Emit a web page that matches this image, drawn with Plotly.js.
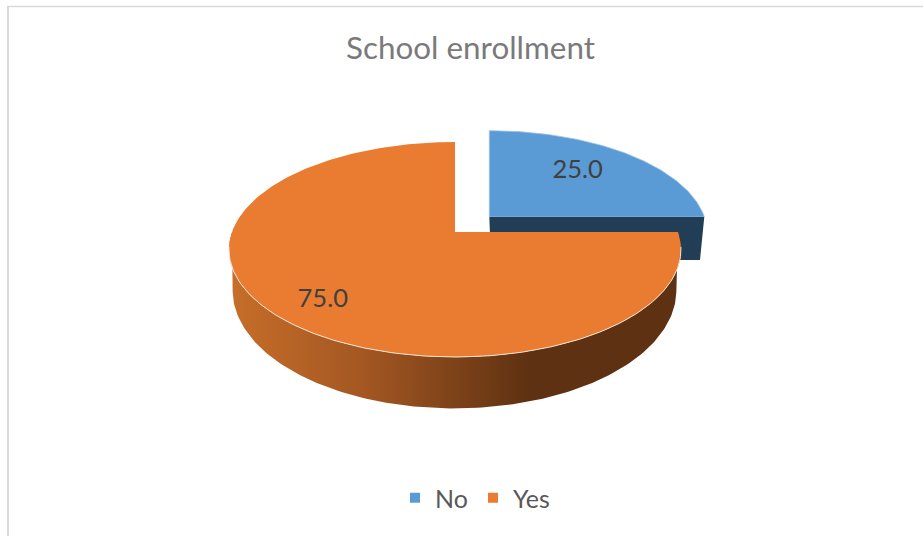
<!DOCTYPE html>
<html>
<head>
<meta charset="utf-8">
<script src="https://cdn.plot.ly/plotly-3.0.1.min.js"></script>
<style>html,body{margin:0;padding:0;background:#fff}</style>
</head>
<body>
<div id="chart" style="width:923px;height:536px"></div>
<script>
// School enrollment shares
const categories = ['No', 'Yes'];
const values = [25, 75];
const valueLabels = ['25.0', '75.0'];
const faceColors = ['#5B9BD5', '#E97C30'];
const wallColors = ['#223E57'];
const wallGradient = [[0, '#C76E2A'], [0.3, '#A35722'], [0.667, '#5E3112'], [1, '#5E3112']];

// Tilted-disc projections: origin, x radius, y radius, depth foreshortening
const noTop = {cx: 489.3, cy: 216.7, rx: 215, ry: 100, k: 0.1628};
const noBottom = {cx: 491, cy: 260, rx: 209, ry: 100, k: 0.1628};
const yesTop = {cx: 455, cy: 232, rx: 223, ry: 104.65, k: 0.1628};
const yesBottom = {cx: 454.5, cy: 271.5, rx: 219, ry: 115, k: 0.16};

function project(p, deg, r) {
  const t = deg * Math.PI / 180;
  const X = r * Math.sin(t), Y = r * Math.cos(t);
  const s = 1 / (1 + p.k * Y);
  return [p.cx + p.rx * X * s, p.cy - p.ry * Y * s];
}
function arc(p, from, to) {
  const pts = [];
  const n = Math.max(2, Math.ceil(Math.abs(to - from)));
  for (let i = 0; i <= n; i++) pts.push(project(p, from + (to - from) * i / n, 1));
  return pts;
}
function shape(points, color, extra) {
  return Object.assign({
    x: points.map(q => q[0]), y: points.map(q => q[1]),
    mode: 'lines', fill: 'toself', fillcolor: color,
    line: {width: 0, color: color}, showlegend: false, hoverinfo: 'skip'
  }, extra || {});
}

// Slice angles come from the share of each category, clockwise from 12 o'clock
const total = values.reduce((a, b) => a + b, 0);
const noEnd = 360 * values[0] / total;
const yesEnd = 360;

const traces = [];

// "No" wedge, pulled out of the pie: wall then face
const noWall = [project(noTop, noEnd, 0), project(noTop, noEnd, 1),
                project(noBottom, noEnd, 1), project(noBottom, noEnd, 0)];
traces.push(shape(noWall, wallColors[0]));
traces.push(shape([project(noTop, 0, 0)].concat(arc(noTop, 0, noEnd)), faceColors[0],
  {line: {width: 0.8, color: '#9DC3E6'}}));

// "Yes" wedge: curved wall with its shading, then face and bright rim.
// The lower arc stops at its widest points so the sides fall straight from the face.
const yesWall = arc(yesTop, noEnd, 270).concat(arc(yesBottom, 260, noEnd + 10));
traces.push(shape(yesWall, wallColors[0], {
  fillgradient: {type: 'horizontal', colorscale: wallGradient, start: 229, stop: 680}
}));
traces.push(shape([project(yesTop, noEnd, 0)].concat(arc(yesTop, noEnd, yesEnd)), faceColors[1]));
const rim = arc(yesTop, noEnd + 8, 262);
traces.push({
  x: rim.map(q => q[0]), y: rim.map(q => q[1]), mode: 'lines',
  line: {width: 1, color: '#F6E4D6'}, showlegend: false, hoverinfo: 'skip'
});

// Value labels placed inside each wedge along its bisector
const noMid = project(noTop, noEnd / 2, 0.63);
const yesMid = project(yesTop, (noEnd + yesEnd) / 2, 0.77);
traces.push({
  x: [noMid[0] - 1, yesMid[0] + 1], y: [noMid[1] - 4, yesMid[1] + 6],
  text: valueLabels, mode: 'text', textposition: 'middle center',
  textfont: {family: 'Lato, sans-serif', size: 25.5, color: '#404040'},
  showlegend: false, hoverinfo: 'skip'
});

// Legend entries
categories.forEach((name, i) => traces.push({
  x: [null], y: [null], name: name, mode: 'markers',
  marker: {symbol: 'square', size: 10, color: faceColors[i]}, showlegend: true
}));

const layout = {
  width: 923, height: 536, autosize: false,
  margin: {l: 0, r: 0, t: 0, b: 0},
  paper_bgcolor: '#fff', plot_bgcolor: '#fff',
  title: {
    text: 'School enrollment', x: 470.5 / 923, xanchor: 'center',
    y: 1 - 48 / 536, yanchor: 'middle',
    font: {family: 'Lato, sans-serif', size: 31.4, color: '#7a7a7a'}
  },
  xaxis: {range: [0, 923], visible: false, fixedrange: true},
  yaxis: {range: [536, 0], visible: false, fixedrange: true},
  legend: {
    orientation: 'h', x: 395 / 923, xanchor: 'left', y: 1 - 498 / 536, yanchor: 'middle',
    entrywidth: 33, entrywidthmode: 'pixels',
    font: {family: 'Lato, sans-serif', size: 25, color: '#595959'},
    bgcolor: 'rgba(0,0,0,0)', itemclick: false, itemdoubleclick: false
  },
  shapes: [
    {type: 'line', xref: 'paper', yref: 'paper', x0: 8 / 923, x1: 8 / 923, y0: 0, y1: 1 - 6 / 536,
     line: {color: '#D9D9D9', width: 2}},
    {type: 'line', xref: 'paper', yref: 'paper', x0: 7 / 923, x1: 1, y0: 1 - 6.5 / 536, y1: 1 - 6.5 / 536,
     line: {color: '#D9D9D9', width: 1.5}}
  ]
};

Plotly.newPlot('chart', traces, layout, {displayModeBar: false, staticPlot: true});
</script>
</body>
</html>
